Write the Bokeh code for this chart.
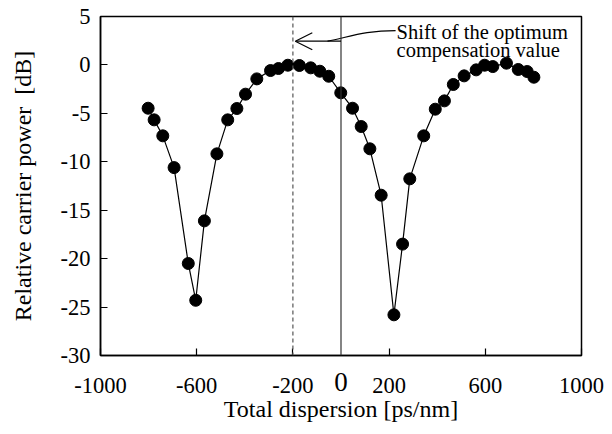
from bokeh.plotting import figure
from bokeh.models import Range1d, FixedTicker, Span, Arrow, OpenHead, Label, LinearAxis
from bokeh.embed import file_html
from bokeh.resources import INLINE

# ---- data ----
dispersion = [-802, -777, -741, -694, -635, -604, -568, -516, -471, -433, -397, -350,
              -293, -260, -221, -173, -126, -88, -51, -1, 48, 84, 120, 167, 220, 256,
              286, 344, 392, 430, 467, 512, 562, 597, 631, 688, 737, 774, 802]
power_db = [-4.47, -5.67, -7.32, -10.6, -20.5, -24.3, -16.1, -9.18, -5.67, -4.50, -3.02,
            -1.44, -0.58, -0.37, -0.03, -0.06, -0.30, -0.65, -1.17, -2.88, -4.47, -6.36,
            -8.66, -13.45, -25.8, -18.5, -11.76, -7.32, -4.57, -3.71, -2.02, -1.13, -0.51,
            -0.03, -0.17, 0.18, -0.47, -0.68, -1.27]

x_ticks = [-1000, -600, -200, 200, 600, 1000]
x_tick_labels = ["-1000", "-600", "-200", "200", "600", "1000"]
zero_tick = [0]
y_ticks = [-30, -25, -20, -15, -10, -5, 0, 5]
y_tick_labels = ["-30", "-25", "-20", "-15", "-10", "-5", "0", "5"]
optimum_shift = -200
annotation_lines = ["Shift of the optimum", "compensation value"]

SERIF = "Liberation Serif"

p = figure(width=604, height=426, output_backend="svg", toolbar_location=None,
           x_range=Range1d(-1000, 1000), y_range=Range1d(-30, 5),
           min_border_left=100, min_border_right=23, min_border_top=16, min_border_bottom=71)

p.xgrid.visible = False
p.ygrid.visible = False
p.outline_line_color = "black"
p.outline_line_width = 1.5
p.background_fill_color = "white"
p.border_fill_color = "white"


def style_axis(ax):
    ax.axis_line_color = "black"
    ax.axis_line_width = 1.5
    ax.major_tick_in = 7
    ax.major_tick_out = 0
    ax.major_tick_line_color = "black"
    ax.major_tick_line_width = 1.2
    ax.minor_tick_line_color = None
    ax.major_label_text_font = SERIF
    ax.major_label_text_font_size = "22.5px"
    ax.major_label_text_color = "black"
    ax.axis_label_text_font = SERIF
    ax.axis_label_text_font_style = "normal"
    ax.axis_label_text_font_size = "24px"
    ax.axis_label_text_color = "black"


style_axis(p.xaxis[0])
style_axis(p.yaxis[0])

p.xaxis.ticker = FixedTicker(ticks=x_ticks)
p.xaxis.major_label_overrides = dict(zip(x_ticks, x_tick_labels))
p.yaxis.ticker = FixedTicker(ticks=y_ticks)
p.yaxis.major_label_overrides = dict(zip(y_ticks, y_tick_labels))
p.yaxis.axis_label = "Relative carrier power\u00a0 [dB]"
p.xaxis.major_label_standoff = 22
p.yaxis.major_label_standoff = 10
p.yaxis.axis_label_standoff = 22

# second bottom axis: the larger "0" label and the axis title
zero_axis = LinearAxis(ticker=FixedTicker(ticks=zero_tick))
style_axis(zero_axis)
zero_axis.axis_line_color = None
zero_axis.major_tick_line_color = None
zero_axis.major_label_text_font_size = "27px"
zero_axis.major_label_standoff = -23
zero_axis.axis_label = "Total dispersion [ps/nm]"
zero_axis.axis_label_standoff = 2
p.add_layout(zero_axis, "below")

# vertical reference lines
p.add_layout(Span(location=0, dimension="height", line_color="#333333", line_width=1.2))
p.add_layout(Span(location=optimum_shift, dimension="height", line_color="#555555",
                  line_width=1.2, line_dash="4 3"))

# data
p.line(dispersion, power_db, line_color="black", line_width=1.2)
p.scatter(dispersion, power_db, size=12, fill_color="black", line_color="black")

# annotation arrow + curve + text
arrow_y = 2.45
p.add_layout(Arrow(end=OpenHead(size=17, line_width=1.2, line_color="black"),
                   x_start=0, y_start=arrow_y, x_end=optimum_shift + 10, y_end=arrow_y,
                   line_width=1.2, line_color="black"))
p.bezier(x0=[-56], y0=[arrow_y], x1=[227], y1=[3.55],
         cx0=[40], cy0=[2.93], cx1=[102], cy1=[3.55], line_color="black", line_width=1.2)
p.add_layout(Label(x=231, y=3.45, text=annotation_lines[0], text_font=SERIF,
                   text_font_size="20.5px", text_baseline="alphabetic", text_color="black"))
p.add_layout(Label(x=231, y=1.54, text=annotation_lines[1], text_font=SERIF,
                   text_font_size="20.5px", text_baseline="alphabetic", text_color="black"))

open("out.html", "w").write(file_html(p, INLINE))
